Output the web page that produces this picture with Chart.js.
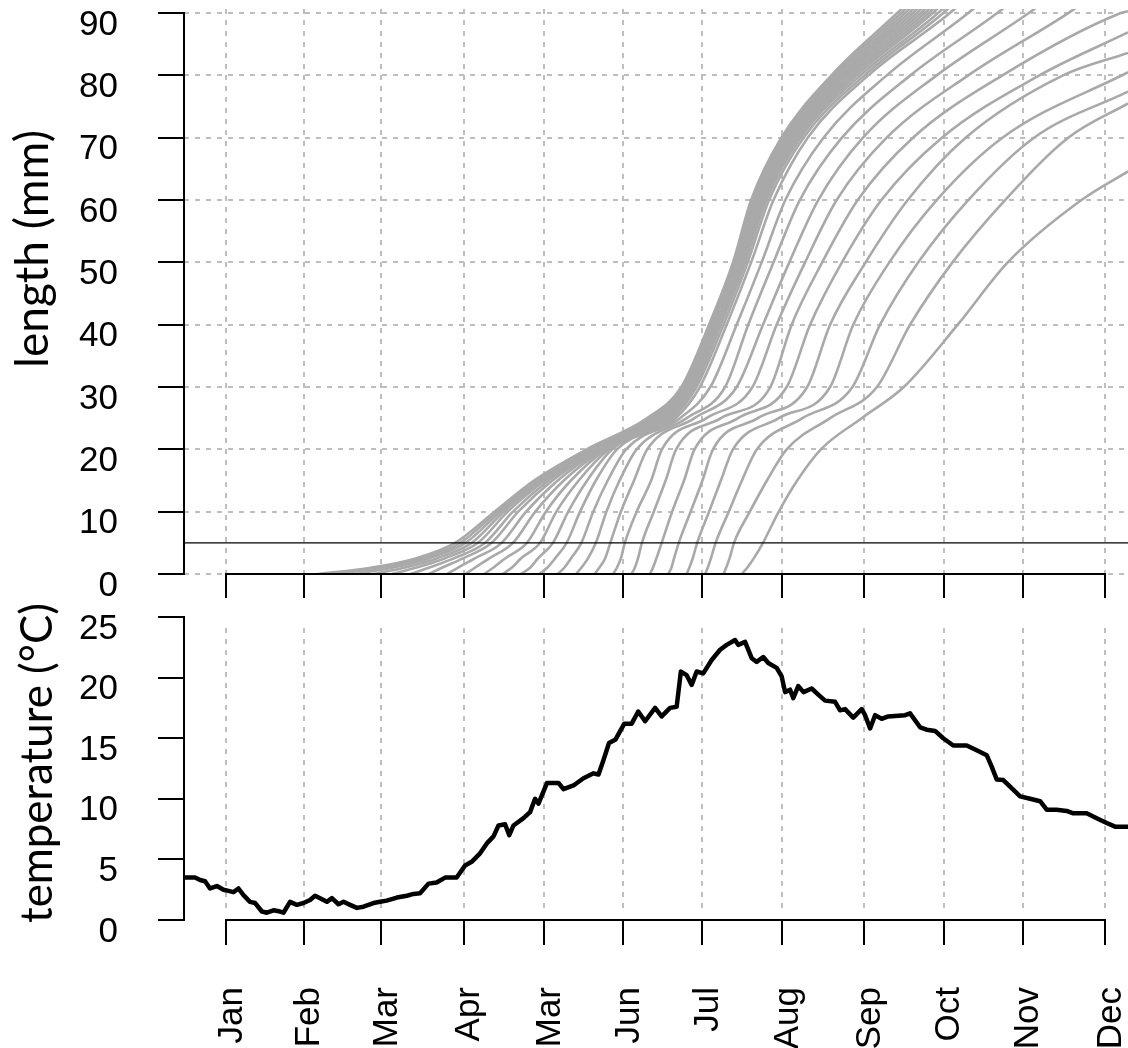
<!DOCTYPE html>
<html>
<head>
<meta charset="utf-8">
<title>Length and temperature</title>
<script src="https://cdn.jsdelivr.net/npm/chart.js@4.4.1/dist/chart.umd.min.js"></script>
<style>
  html, body { margin: 0; padding: 0; background: #ffffff; }
  #page { position: relative; width: 1128px; height: 1048px; overflow: hidden; background: #ffffff; }
  #page canvas { position: absolute; left: 0; }
</style>
</head>
<body>
<div id="page">
  <canvas id="lengthChart" width="1128" height="610" style="top:0px"></canvas>
  <canvas id="tempChart" width="1128" height="468" style="top:580px"></canvas>
</div>
<script>
// ================= DATA =================
const monthTickDays = [0, 29.5, 59, 90.3, 120.8, 151, 181, 211.2, 242.5, 272.7, 302.7, 334];
const monthLabels   = ['Jan', 'Feb', 'Mar', 'Apr', 'Mar', 'Jun', 'Jul', 'Aug', 'Sep', 'Oct', 'Nov', 'Dec'];
const lengthTicks   = [0, 10, 20, 30, 40, 50, 60, 70, 80, 90];
const tempTicks     = [0, 5, 10, 15, 20, 25];
const dayRange      = [-16, 342.7];
const lengthRange   = [0, 90.65];
const tempRange     = [0, 25];
const thresholdLength = 5;

// length levels (mm) and, per cohort, the day on which each level is reached
const lengthLevels = [0, 1, 2.5, 5, 10, 15, 20, 25, 30, 40, 50, 60, 70, 80, 90, 95];
const cohort01 = [35, 55, 72, 87, 102, 117, 137, 160, 173, 183.5, 192.6, 199.5, 211, 230, 255, 267];
const cohort02 = [42, 59, 74.5, 89, 103, 117.8, 137.6, 160.6, 173.3, 183.8, 193, 200, 211.7, 231, 256.5, 268.5];
const cohort03 = [49, 63, 77, 91, 104.2, 118.8, 138.3, 161.3, 173.7, 184.1, 193.4, 200.5, 212.4, 232, 258, 270];
const cohort04 = [56, 67.5, 80, 93.3, 105.5, 119.9, 139, 162, 174.1, 184.5, 193.8, 201, 213, 233, 259.5, 271.5];
const cohort05 = [63, 72, 83, 95.7, 107, 121.1, 139.8, 162.8, 174.5, 184.9, 194.2, 201.5, 213.6, 234, 261, 273];
const cohort06 = [70, 77, 86.5, 98.4, 109, 122.5, 140.6, 163.6, 175, 185.3, 194.6, 202, 214.2, 235, 262.5, 274.5];
const cohort07 = [77, 82, 90, 100.9, 111, 124, 141.5, 164.5, 175.5, 185.7, 195, 202.6, 214.9, 236, 264, 276];
const cohort08 = [84, 88, 94.5, 104.7, 114, 126, 142.4, 165.4, 176, 186.2, 195.5, 203.2, 215.6, 237.2, 265.5, 277.5];
const cohort09 = [91, 94.5, 100, 109, 117.5, 128.3, 143.4, 166.4, 176.6, 186.7, 196, 203.8, 216.4, 238.4, 267, 279];
const cohort10 = [98, 101.5, 106, 114.3, 121.5, 131, 144.4, 167.4, 177.2, 187.3, 196.6, 204.5, 217.2, 239.6, 268.5, 280.5];
const cohort11 = [105, 108.5, 112, 119.3, 125.5, 134, 145.5, 168.5, 177.9, 188, 197.3, 205.3, 218.2, 241, 270.5, 282.5];
const cohort12 = [112, 115.5, 118.5, 124.2, 130, 137.2, 146.7, 169.6, 178.7, 189, 198.2, 206.3, 219.4, 242.5, 272.5, 285];
const cohort13 = [119, 122, 125, 129.4, 134.5, 140.5, 148.5, 170.8, 180, 190.2, 199.5, 208, 221, 244, 275, 288];
const cohort14 = [126, 128.5, 131, 135, 139.5, 145, 152, 172.5, 184, 194, 203.5, 212.5, 227, 251, 282, 296];
const cohort15 = [133, 135, 137.5, 140.5, 144.5, 149.5, 156, 175, 189.6, 198.4, 208, 218, 234, 260, 293, 308];
const cohort16 = [140, 141.8, 144, 146, 150, 155, 160, 178, 194, 204, 214, 225, 242, 270, 305, 321];
const cohort17 = [147, 148.5, 150, 151.5, 156, 161.5, 165.6, 182.5, 200, 209.2, 220, 232, 251, 282, 320, 337];
const cohort18 = [154, 155.3, 156.5, 158, 162.5, 167, 171, 188, 206.8, 214.9, 226.5, 240, 261, 295, 340, null];
const cohort19 = [161, 162.2, 163.5, 165.5, 169.5, 174, 178, 194.5, 213, 221.9, 234, 249, 272, 309, null, null];
const cohort20 = [168, 169.2, 170.2, 172, 176.5, 181, 185, 202, 220.8, 229.5, 243, 259, 281, 318, null, null];
const cohort21 = [175, 176, 177.3, 179, 183.5, 188, 192.6, 210, 229.5, 238.3, 252, 270, 295, null, null, null];
const cohort22 = [182, 183, 184.2, 186, 191, 196, 201.7, 219, 238, 248.5, 263, 282, 307, null, null, null];
const cohort23 = [189, 190, 191.3, 193, 199, 205.5, 213, 229.5, 247.3, 259.9, 276, 296, 320, null, null, null];
const cohort24 = [196, 198, 200.5, 204, 210, 217, 226, 241.5, 257.5, 278, 297, 325, null, null, null, null];
// length (mm) on the last day, for cohorts still inside the panel there
const cohortEndLength = [null, null, null, null, null, null, null, null, null, null, null, null,
                         null, null, null, null, null, 90.3, 86.9, 83.6, 80.5, 77.4, 75.5, 64.6];

// daily mean temperature (°C)
const tempDays = [-16.2, -11.8, -9.9, -8, -6.1, -3.5, -1, 0.9, 2.8, 4.7, 6.6, 9.1, 11, 13.6, 15.5, 18, 20.5, 21.8,
  24.3, 26.9, 29.4, 31.9, 33.8, 35.7, 38.3, 40.2, 42.7, 44.6, 47.1, 49.7, 52.2, 56, 58.5, 61, 64.9, 68.7, 71.2, 73.7,
  76.9, 80, 83.2, 87.6, 90.8, 93.3, 96.5, 99, 101.6, 103.5, 106, 107.6, 109.2, 113, 115.5, 117.4, 118.7, 121.9, 126.3,
  128.2, 132, 135.8, 139.6, 141.5, 143.4, 145.5, 148, 151.3, 154.1, 156.6, 159.2, 163, 165.5, 168.7, 171.2, 172.8,
  175, 176.9, 178.8, 181.3, 184.5, 187.7, 190.2, 193.4, 194.6, 197.2, 199.7, 201.6, 204.1, 206, 209.2, 211.1, 212.4,
  214.3, 215.5, 217.4, 219.4, 222.5, 225, 227.6, 231.4, 233.3, 235.2, 238.3, 241.5, 242.8, 244.7, 246.6, 249.1, 251.6,
  258, 259.9, 263.7, 266.2, 269.4, 272.5, 276.3, 281.4, 285.2, 289, 290.9, 292.8, 295.3, 297.9, 301.7, 305.5, 309.3,
  311.8, 315.6, 319.4, 321.9, 327, 330.8, 334.6, 337.8, 342.7];
const tempValues = [3.5, 3.5, 3.3, 3.2, 2.6, 2.8, 2.5, 2.4, 2.3, 2.6, 2.05, 1.5, 1.4, 0.7, 0.6, 0.8, 0.7, 0.6,
  1.5, 1.25, 1.4, 1.65, 2.0, 1.8, 1.5, 1.8, 1.3, 1.5, 1.25, 1.0, 1.1, 1.4, 1.5, 1.6, 1.85, 2.0, 2.15, 2.2,
  3.0, 3.1, 3.5, 3.5, 4.5, 4.8, 5.5, 6.3, 6.9, 7.8, 7.9, 7.0, 7.8, 8.4, 8.9, 10.0, 9.6, 11.3, 11.3,
  10.8, 11.1, 11.7, 12.1, 12.0, 13.2, 14.6, 14.9, 16.2, 16.2, 17.2, 16.4, 17.5, 16.8, 17.5, 17.6, 20.5,
  20.2, 19.4, 20.5, 20.35, 21.45, 22.3, 22.7, 23.1, 22.7, 22.95, 21.6, 21.3, 21.7, 21.2, 20.8, 20.1, 18.8,
  19.0, 18.3, 19.3, 18.8, 19.1, 18.6, 18.1, 18.0, 17.3, 17.4, 16.7, 17.4, 16.9, 15.8, 16.9, 16.6, 16.8,
  16.9, 17.05, 15.9, 15.7, 15.6, 15.0, 14.4, 14.4, 14.0, 13.6, 12.65, 11.6, 11.55, 11.0, 10.2, 10.0, 9.8,
  9.1, 9.1, 9.0, 8.8, 8.8, 8.4, 8.0, 7.7, 7.7];

// ================= CHARTS =================
const cohorts = [cohort01, cohort02, cohort03, cohort04, cohort05, cohort06, cohort07, cohort08, cohort09, cohort10,
  cohort11, cohort12, cohort13, cohort14, cohort15, cohort16, cohort17, cohort18, cohort19, cohort20, cohort21,
  cohort22, cohort23, cohort24];

const GRID = '#bebebe';
const GRID_DASH = [5, 6];
const TICK_FONT = { family: "'Liberation Sans', Arial, sans-serif", size: 35 };
const TITLE_FAMILY = "Lato, 'Open Sans', sans-serif";

function cohortPoints(days, endLen) {
  const pts = [];
  days.forEach((d, i) => { if (d !== null) pts.push({ x: d, y: lengthLevels[i] }); });
  if (endLen !== null) pts.push({ x: dayRange[1], y: endLen });
  return pts;
}

const rAxesPlugin = {
  id: 'rAxes',
  afterDraw(chart) {
    const { ctx, chartArea, scales: { x, y } } = chart;
    ctx.save();
    ctx.strokeStyle = '#000';
    ctx.lineWidth = 2;
    const xt = x.ticks, yt = y.ticks;
    const xa = Math.round(x.getPixelForValue(xt[0].value)), xb = Math.round(x.getPixelForValue(xt[xt.length - 1].value));
    ctx.beginPath(); ctx.moveTo(xa - 1, chartArea.bottom); ctx.lineTo(xb + 1, chartArea.bottom); ctx.stroke();
    const ya = Math.round(y.getPixelForValue(yt[0].value)), yb = Math.round(y.getPixelForValue(yt[yt.length - 1].value));
    ctx.beginPath(); ctx.moveTo(chartArea.left, ya + 1); ctx.lineTo(chartArea.left, yb - 1); ctx.stroke();
    ctx.restore();
  }
};

const sideTitlePlugin = {
  id: 'sideTitle',
  afterDraw(chart, args, o) {
    const ctx = chart.ctx;
    ctx.save();
    ctx.font = `40px ${TITLE_FAMILY}`;
    const w = ctx.measureText(o.text).width;
    const size = 40 * o.span / w;
    ctx.font = `${size}px ${TITLE_FAMILY}`;
    ctx.translate(o.x, o.y);
    ctx.rotate(-Math.PI / 2);
    ctx.textAlign = 'center';
    ctx.textBaseline = 'alphabetic';
    ctx.fillStyle = '#000';
    ctx.fillText(o.text, 0, 0);
    ctx.restore();
  }
};

const refLinePlugin = {
  id: 'refLine',
  afterDatasetsDraw(chart, args, o) {
    if (o.value === undefined) return;
    const { ctx, chartArea, scales: { y } } = chart;
    const py = y.getPixelForValue(o.value);
    ctx.save();
    ctx.strokeStyle = '#000';
    ctx.lineWidth = 1.4;
    ctx.beginPath(); ctx.moveTo(chartArea.left, py); ctx.lineTo(chartArea.right, py); ctx.stroke();
    ctx.restore();
  }
};

const vGridPlugin = {
  id: 'vGrid',
  beforeDatasetsDraw(chart, args, o) {
    if (!o.span) return;
    const { ctx, scales: { x, y } } = chart;
    ctx.save();
    ctx.strokeStyle = GRID; ctx.lineWidth = 2; ctx.setLineDash(GRID_DASH);
    x.ticks.forEach(t => {
      const px = Math.round(x.getPixelForValue(t.value));
      ctx.beginPath();
      ctx.moveTo(px, y.getPixelForValue(o.span[1]));
      ctx.lineTo(px, y.getPixelForValue(o.span[0]));
      ctx.stroke();
    });
    ctx.restore();
  }
};

function xScale(opts) {
  return Object.assign({
    type: 'linear', min: dayRange[0], max: dayRange[1],
    afterBuildTicks: s => { s.ticks = monthTickDays.map(v => ({ value: v })); },
    border: { display: false, dash: GRID_DASH }
  }, opts);
}

// ---- top panel: length ----
new Chart(document.getElementById('lengthChart'), {
  type: 'line',
  data: {
    datasets: cohorts.map((c, i) => ({
      data: cohortPoints(c, cohortEndLength[i]),
      borderColor: '#a9a9a9', borderWidth: 2.6, pointRadius: 0,
      cubicInterpolationMode: 'monotone', fill: false
    }))
  },
  options: {
    responsive: false, animation: false, devicePixelRatio: 1,
    layout: { padding: { top: 9, left: 0, right: 0, bottom: 0 } },
    plugins: {
      legend: { display: false }, tooltip: { enabled: false },
      sideTitle: { text: 'length (mm)', x: 48, y: 249, span: 238 },
      refLine: { value: thresholdLength }
    },
    scales: {
      x: xScale({
        afterFit: s => { s.height = 36; s.paddingLeft = 0; s.paddingRight = 0; },
        ticks: { display: false },
        grid: { color: GRID, lineWidth: 2, drawOnChartArea: true, drawTicks: true, tickLength: 24,
                tickColor: '#000', tickWidth: 2, tickBorderDash: [] }
      }),
      y: {
        type: 'linear', min: lengthRange[0], max: lengthRange[1],
        afterBuildTicks: s => { s.ticks = lengthTicks.map(v => ({ value: v })); },
        afterFit: s => { s.width = 184; s.paddingTop = 0; s.paddingBottom = 0; },
        ticks: { font: TICK_FONT, color: '#000', padding: 40, labelOffset: 12 },
        grid: { color: GRID, lineWidth: 2, drawOnChartArea: true, drawTicks: true, tickLength: 26,
                tickColor: '#000', tickWidth: 2, tickBorderDash: [] },
        border: { display: false, dash: GRID_DASH }
      }
    }
  },
  plugins: [rAxesPlugin, sideTitlePlugin, refLinePlugin]
});

// ---- bottom panel: temperature ----
new Chart(document.getElementById('tempChart'), {
  type: 'line',
  data: {
    datasets: [{
      data: tempDays.map((d, i) => ({ x: d, y: tempValues[i] })),
      borderColor: '#000', borderWidth: 4.5, pointRadius: 0, tension: 0,
      borderJoinStyle: 'round', borderCapStyle: 'round', fill: false
    }]
  },
  options: {
    responsive: false, animation: false, devicePixelRatio: 1,
    layout: { padding: { top: 37, left: 0, right: 0, bottom: 0 } },
    plugins: {
      legend: { display: false }, tooltip: { enabled: false },
      sideTitle: { text: 'temperature (°C)', x: 52, y: 183, span: 320 },
      vGrid: { span: [0.65, 24.1] }
    },
    scales: {
      x: xScale({
        afterFit: s => { s.height = 128; s.paddingLeft = 0; s.paddingRight = 0; },
        ticks: { display: true, autoSkip: false, maxRotation: 90, minRotation: 90, font: TICK_FONT,
                 color: '#000', padding: 42, labelOffset: 6,
                 callback: (v, i) => monthLabels[i] },
        grid: { color: GRID, lineWidth: 2, drawOnChartArea: false, drawTicks: true, tickLength: 25,
                tickColor: '#000', tickWidth: 2, tickBorderDash: [] }
      }),
      y: {
        type: 'linear', min: tempRange[0], max: tempRange[1],
        afterBuildTicks: s => { s.ticks = tempTicks.map(v => ({ value: v })); },
        afterFit: s => { s.width = 184; s.paddingTop = 0; s.paddingBottom = 0; },
        ticks: { font: TICK_FONT, color: '#000', padding: 40, labelOffset: 12 },
        grid: { color: GRID, lineWidth: 2, drawOnChartArea: false, drawTicks: true, tickLength: 26,
                tickColor: '#000', tickWidth: 2, tickBorderDash: [] },
        border: { display: false }
      }
    }
  },
  plugins: [rAxesPlugin, sideTitlePlugin, vGridPlugin]
});
</script>
</body>
</html>
